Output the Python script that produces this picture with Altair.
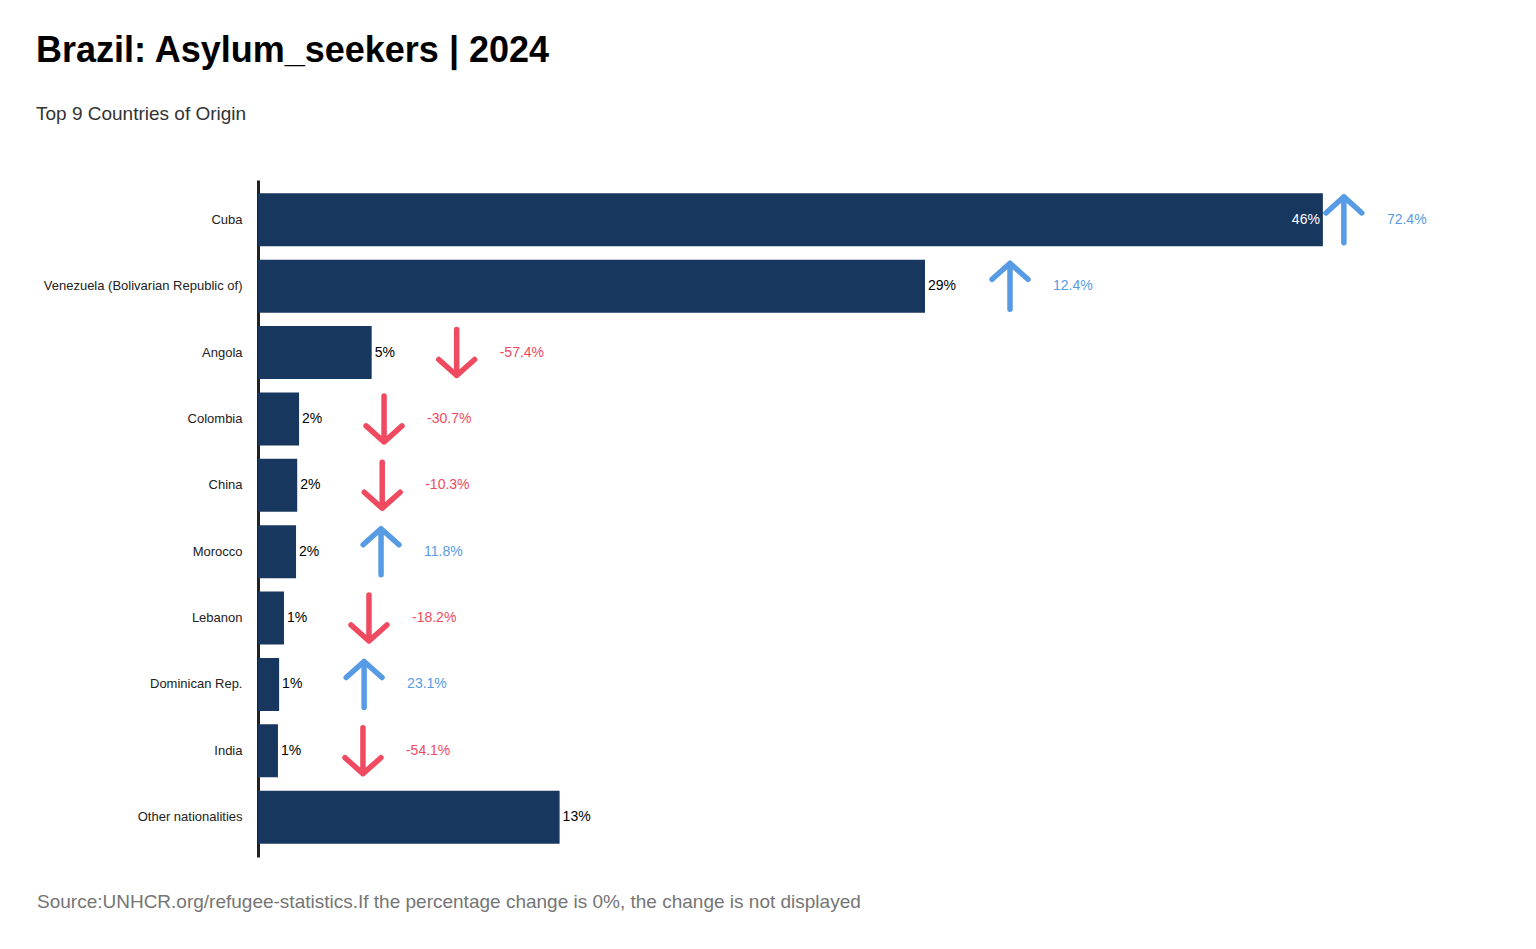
import altair as alt
import pandas as pd

countries = ["Cuba", "Venezuela (Bolivarian Republic of)", "Angola", "Colombia", "China",
             "Morocco", "Lebanon", "Dominican Rep.", "India", "Other nationalities"]
shares = [45.9, 28.75, 4.9, 1.77, 1.69, 1.64, 1.12, 0.91, 0.86, 13.0]
changes = [72.4, 12.4, -57.4, -30.7, -10.3, 11.8, -18.2, 23.1, -54.1, None]

title_text = "Brazil: Asylum_seekers | 2024"
subtitle_text = "Top 9 Countries of Origin"
footer_text = "Source:UNHCR.org/refugee-statistics.If the percentage change is 0%, the change is not displayed"

BLUE = "#589BE5"
RED = "#EF4A60"
NAVY = "#18375F"
FONT = "Liberation Sans"
UP = "M0,1 L0,-1 M-0.78,-0.3 L0,-1 L0.78,-0.3"
DOWN = "M0,-1 L0,1 M-0.78,0.3 L0,1 L0.78,0.3"

df = pd.DataFrame({"country": countries, "share": shares, "change": changes})

W, H = 1160, 677

base = alt.Chart(df).transform_calculate(
    label="format(datum.share, '.0f') + '%'",
    chg="isValid(datum.change) ? (datum.change < 0 ? '-' : '') + format(abs(datum.change), '.1f') + '%' : ''",
    inside="datum.share > 40",
)

y = alt.Y("country:N", sort=countries,
          scale=alt.Scale(paddingInner=0.2, paddingOuter=0.2),
          axis=alt.Axis(title=None, ticks=False, grid=False, domain=True, domainColor="#222222",
                        domainWidth=3, labelFont=FONT, labelFontSize=13, labelColor="#222222",
                        labelPadding=16, labelLimit=400))
x = alt.X("share:Q", scale=alt.Scale(domain=[0, 50]), axis=None)

bars = base.mark_bar(color=NAVY).encode(x=x, y=y)

lab_out = base.transform_filter("!datum.inside").mark_text(
    align="left", dx=3, fontSize=14, font=FONT, color="black").encode(x=x, y=y, text="label:N")
lab_in = base.transform_filter("datum.inside").mark_text(
    align="right", dx=-3, fontSize=14, font=FONT, color="white").encode(x=x, y=y, text="label:N")

is_up = alt.datum.change > 0
arrow_enc = dict(
    x=x, y=y,
    shape=alt.condition(is_up, alt.value(UP), alt.value(DOWN)),
    stroke=alt.condition(is_up, alt.value(BLUE), alt.value(RED)),
)
valid = "isValid(datum.change) && datum.change != 0"
arr_out = base.transform_filter("!datum.inside && " + valid).mark_point(
    filled=False, size=2116, strokeWidth=5.5, strokeCap="round", strokeJoin="round", opacity=1,
    xOffset=85).encode(**arrow_enc)
arr_in = base.transform_filter("datum.inside && " + valid).mark_point(
    filled=False, size=2116, strokeWidth=5.5, strokeCap="round", strokeJoin="round", opacity=1,
    xOffset=21).encode(**arrow_enc)

txt_color = alt.condition(is_up, alt.value(BLUE), alt.value(RED))
chg_out = base.transform_filter("!datum.inside && " + valid).mark_text(
    align="left", dx=128, fontSize=14, font=FONT).encode(x=x, y=y, text="chg:N", color=txt_color)
chg_in = base.transform_filter("datum.inside && " + valid).mark_text(
    align="left", dx=64, fontSize=14, font=FONT).encode(x=x, y=y, text="chg:N", color=txt_color)

footer = alt.Chart(pd.DataFrame({"t": [footer_text]})).mark_text(
    align="left", baseline="middle", fontSize=19, font=FONT, color="#757575").encode(
    text="t:N", x=alt.value(-221), y=alt.value(H + 45))

chart = alt.layer(bars, lab_out, lab_in, arr_out, arr_in, chg_out, chg_in, footer).properties(
    width=W, height=H,
    title=alt.TitleParams(title_text, subtitle=subtitle_text, anchor="start", frame="group", dx=-222,
                          font=FONT, fontSize=36, fontWeight="bold", color="black",
                          subtitleFont=FONT, subtitleFontSize=19, subtitleColor="#333333",
                          subtitlePadding=35, offset=55),
    autosize=alt.AutoSizeParams(type="none"),
    padding={"left": 250, "top": 172, "right": 110, "bottom": 70},
).configure(background="white").configure_view(strokeWidth=0, stroke="transparent")

chart.save("out.html", embed_options={"renderer": "svg", "actions": False})
